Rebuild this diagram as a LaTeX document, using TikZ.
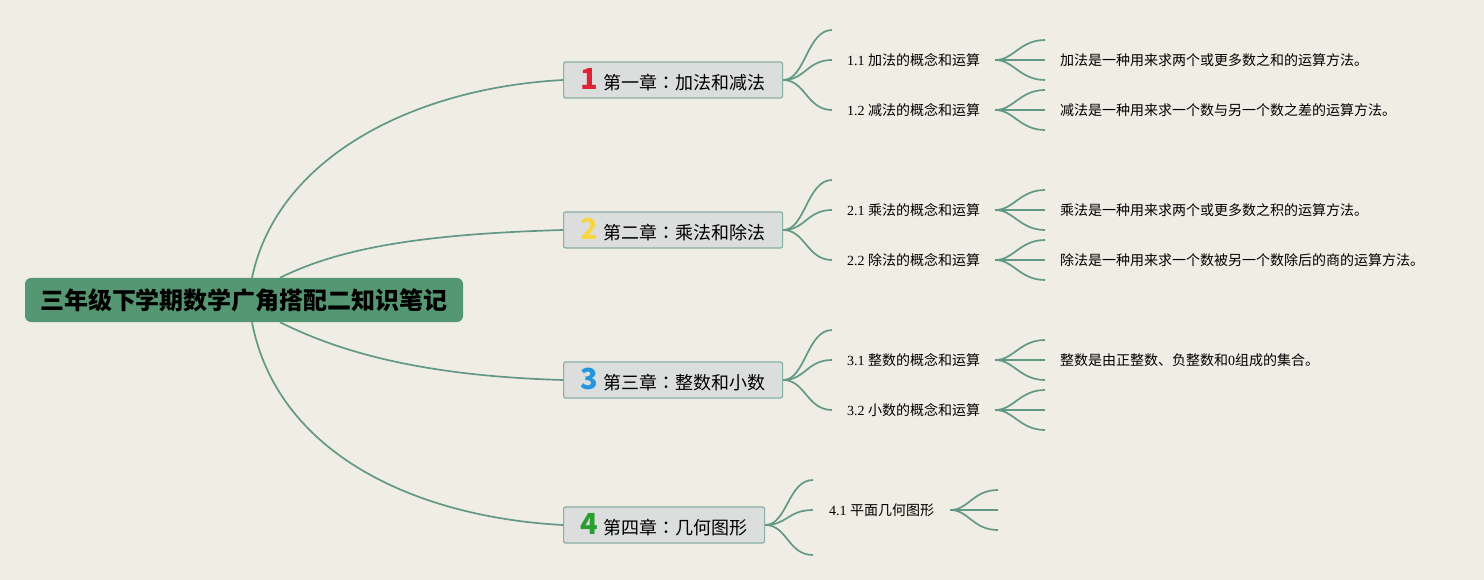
\documentclass[tikz,border=0pt]{standalone}
\usepackage{fontspec}
\setmainfont{Liberation Serif}
\newfontfamily\cjk{Noto Sans CJK SC}
\newfontfamily\cjktc{Noto Sans CJK TC}
\usetikzlibrary{positioning, calc}

\definecolor{paper}{RGB}{240,237,228}
\definecolor{rootgreen}{RGB}{84,151,114}
\definecolor{branchline}{RGB}{98,153,134}
\definecolor{chapfill}{RGB}{220,222,222}
\definecolor{chapline}{RGB}{136,174,168}
\definecolor{numred}{RGB}{222,35,55}
\definecolor{numyellow}{RGB}{246,214,72}
\definecolor{numblue}{RGB}{36,150,222}
\definecolor{numgreen}{RGB}{42,158,46}

\tikzset{
  rootbox/.style={fill=rootgreen, rounded corners=6pt, minimum width=438pt, minimum height=44pt, inner sep=0pt, font=\cjk\bfseries\fontsize{24}{28}\selectfont},
  chapbox/.style={draw=chapline, line width=1.2pt, fill=chapfill, rounded corners=2pt, anchor=west, minimum height=36pt, inner sep=0pt, font=\cjk\fontsize{18}{20}\selectfont},
  topic/.style={anchor=west, inner xsep=15pt, font=\fontsize{14}{16}\selectfont},
  leaf/.style={anchor=west, inner xsep=15pt, font=\cjk\fontsize{14}{16}\selectfont},
  branch/.style={draw=branchline, line width=1.7pt},
}
\newcommand{\chapnum}[2]{{\color{#1}\bfseries\fontsize{29}{29}\selectfont #2}\hspace{6pt}}
\newcommand{\fwcolon}{{\cjktc ：}}

\begin{document}
\begin{tikzpicture}[x=1pt, y=-1pt]
    \fill[paper] (0,0) rectangle (1484,580);

    % root and chapters
    \node[rootbox] (root) at (244,300) {三年级下学期数学广角搭配二知识笔记};
    \node[chapbox, minimum width=219pt] (c1) at (563,80)  {\chapnum{numred}{1}第一章\fwcolon 加法和减法};
    \node[chapbox, minimum width=219pt] (c2) at (563,230) {\chapnum{numyellow}{2}第二章\fwcolon 乘法和除法};
    \node[chapbox, minimum width=219pt] (c3) at (563,380) {\chapnum{numblue}{3}第三章\fwcolon 整数和小数};
    \node[chapbox, minimum width=201pt] (c4) at (563,525) {\chapnum{numgreen}{4}第四章\fwcolon 几何图形};

    \draw[branch] ([xshift=8pt]root.north)  .. controls +(25,-120) and +(-150,8) .. (c1.west);
    \draw[branch] ([xshift=36pt]root.north) .. controls +(60,-30) and +(-140,4) .. (c2.west);
    \draw[branch] ([xshift=36pt]root.south) .. controls +(60,30) and +(-140,-4) .. (c3.west);
    \draw[branch] ([xshift=8pt]root.south)  .. controls +(25,130) and +(-150,-8) .. (c4.west);

    % sub topics
    \node[topic] (s11) at (832,60)  {1.1 {\cjk 加法的概念和运算}};
    \node[topic] (s12) at (832,110) {1.2 {\cjk 减法的概念和运算}};
    \node[topic] (s21) at (832,210) {2.1 {\cjk 乘法的概念和运算}};
    \node[topic] (s22) at (832,260) {2.2 {\cjk 除法的概念和运算}};
    \node[topic] (s31) at (832,360) {3.1 {\cjk 整数的概念和运算}};
    \node[topic] (s32) at (832,410) {3.2 {\cjk 小数的概念和运算}};
    \node[topic, inner xsep=16pt] (s41) at (813,510) {4.1 {\cjk 平面几何图形}};

    \coordinate (c1e) at (832,30);
    \coordinate (c2e) at (832,180);
    \coordinate (c3e) at (832,330);
    \coordinate (c4e) at (813,480);
    \coordinate (c4f) at (813,555);

    \foreach \c/\a/\b/\e in {c1/s11/s12/c1e, c2/s21/s22/c2e, c3/s31/s32/c3e}{
        \draw[branch] (\c.east) .. controls +(22,0) and +(-25,0) .. (\e);
        \draw[branch] (\c.east) .. controls +(22,0) and +(-25,0) .. (\a.west);
        \draw[branch] (\c.east) .. controls +(22,0) and +(-25,0) .. (\b.west);
    }
    \draw[branch] (c4.east) .. controls +(22,0) and +(-25,0) .. (c4e);
    \draw[branch] (c4.east) .. controls +(22,0) and +(-25,0) .. (s41.west);
    \draw[branch] (c4.east) .. controls +(22,0) and +(-25,0) .. (c4f);

    % notes
    \node[leaf] (d11) at (1045,60)  {加法是一种用来求两个或更多数之和的运算方法。};
    \node[leaf] (d12) at (1045,110) {减法是一种用来求一个数与另一个数之差的运算方法。};
    \node[leaf] (d21) at (1045,210) {乘法是一种用来求两个或更多数之积的运算方法。};
    \node[leaf] (d22) at (1045,260) {除法是一种用来求一个数被另一个数除后的商的运算方法。};
    \node[leaf] (d31) at (1045,360) {整数是由正整数、负整数和{\rmfamily 0}组成的集合。};

    \foreach \s/\d in {s11/d11, s12/d12, s21/d21, s22/d22, s31/d31}{
        \draw[branch] (\s.east) .. controls +(18,0) and +(-25,0) .. ($(\d.west)+(0,-20)$);
        \draw[branch] (\s.east) -- (\d.west);
        \draw[branch] (\s.east) .. controls +(18,0) and +(-25,0) .. ($(\d.west)+(0,20)$);
    }
    \coordinate (s32a) at (1045,390);
    \coordinate (s32b) at (1045,410);
    \coordinate (s32c) at (1045,430);
    \coordinate (s41a) at (998,490);
    \coordinate (s41b) at (998,510);
    \coordinate (s41c) at (998,530);
    \foreach \e in {s32a, s32b, s32c}
        \draw[branch] (s32.east) .. controls +(18,0) and +(-25,0) .. (\e);
    \foreach \e in {s41a, s41b, s41c}
        \draw[branch] (s41.east) .. controls +(18,0) and +(-25,0) .. (\e);
\end{tikzpicture}
\end{document}
